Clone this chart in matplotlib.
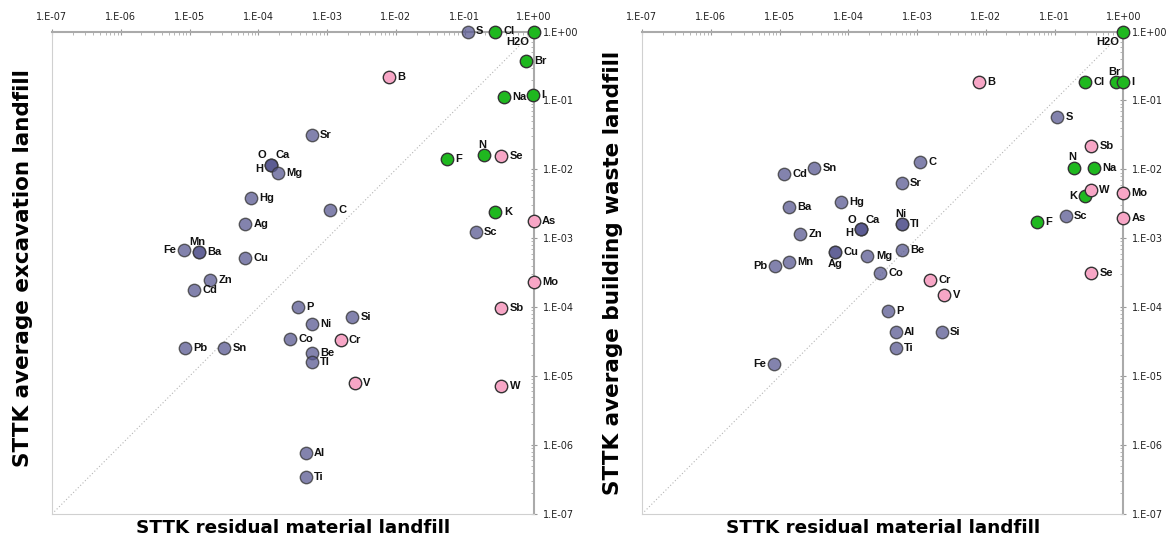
import matplotlib
matplotlib.use("Agg")
import matplotlib.pyplot as plt
from matplotlib.ticker import LogLocator, FixedLocator, NullFormatter
import numpy as np

# ---------------- data ----------------
elements = ["H2O", "S", "Cl", "Br", "I", "Na", "B", "F", "N", "Se", "K", "As", "Sc",
            "Mo", "Sb", "W", "O", "H", "Ca", "Mg", "Hg", "C", "Ag", "Fe", "Mn", "Ba",
            "Cu", "Zn", "Cd", "P", "Si", "Ni", "Co", "Cr", "Pb", "Sn", "Be", "Tl",
            "V", "Al", "Ti", "Sr"]
groups = ["g", "b", "g", "g", "g", "g", "p", "g", "g", "p", "g", "p", "b",
          "p", "p", "p", "b", "b", "b", "b", "b", "b", "b", "b", "b", "b",
          "b", "b", "b", "b", "b", "b", "b", "p", "b", "b", "b", "b",
          "p", "b", "b", "b"]
residual = [1.0, 0.11, 0.28, 0.78, 0.99, 0.37, 0.008, 0.055, 0.19, 0.34, 0.28, 1.0, 0.145,
            1.0, 0.34, 0.34, 1.55e-4, 1.55e-4, 1.55e-4, 1.9e-4, 7.9e-5, 1.1e-3, 6.5e-5, 8.4e-6, 1.37e-5, 1.37e-5,
            6.5e-5, 2.0e-5, 1.15e-5, 3.8e-4, 2.3e-3, 6.0e-4, 2.9e-4, 1.57e-3, 8.7e-6, 3.2e-5, 6.0e-4, 6.0e-4,
            2.5e-3, 4.9e-4, 4.9e-4, 6.0e-4]
excavation = [1.0, 1.0, 1.0, 0.37, 0.118, 0.112, 0.22, 0.014, 0.016, 0.0156, 0.0024, 0.0018, 0.00123,
              2.3e-4, 9.6e-5, 7.2e-6, 0.0117, 0.0117, 0.0117, 0.0089, 0.0038, 0.0026, 0.0016, 6.7e-4, 6.3e-4, 6.3e-4,
              5.1e-4, 2.5e-4, 1.77e-4, 1.0e-4, 7.1e-5, 5.7e-5, 3.5e-5, 3.3e-5, 2.6e-5, 2.6e-5, 2.2e-5, 1.6e-5,
              8.0e-6, 7.8e-7, 3.4e-7, 0.032]
building = [1.0, 0.057, 0.184, 0.184, 0.184, 0.0106, 0.184, 0.0017, 0.0106, 3.1e-4, 0.0041, 0.0020, 0.0021,
            0.0046, 0.0218, 0.0050, 0.00135, 0.00135, 0.00135, 5.5e-4, 0.0034, 0.0128, 6.4e-4, 1.5e-5, 4.5e-4, 0.0028,
            6.4e-4, 0.00117, 0.0085, 8.7e-5, 4.4e-5, 0.0016, 3.1e-4, 2.5e-4, 4.0e-4, 0.0106, 6.7e-4, 0.0016,
            1.5e-4, 4.4e-5, 2.6e-5, 0.0064]

tick_values = [1e-7, 1e-6, 1e-5, 1e-4, 1e-3, 1e-2, 1e-1, 1e0]
tick_labels = ["1.E-07", "1.E-06", "1.E-05", "1.E-04", "1.E-03", "1.E-02", "1.E-01", "1.E+00"]

xlabel_text = "STTK residual material landfill"
ylabel_left = "STTK average excavation landfill"
ylabel_right = "STTK average building waste landfill"

# ---------------- styles ----------------
face = {"g": "#1fb81f", "p": "#f7a6c6", "b": "#5a5a92"}
alpha = {"g": 1.0, "p": 1.0, "b": 0.75}

offsets = {
    "r": ((6, 0), "left", "center"),
    "l": ((-6, 0), "right", "center"),
    "u": ((-1, 4), "center", "bottom"),
    "d": ((-3, -4), "right", "top"),
    "ul": ((-4, 3), "right", "bottom"),
    "ur": ((3, 3), "left", "bottom"),
    "hl": ((-6, -3), "right", "center"),
    "dn": ((0, -5), "center", "top"),
}
pos_left = {"H2O": "d", "O": "ul", "H": "hl", "Ca": "ur", "Mn": "u", "Fe": "l", "N": "u"}
pos_right = {"H2O": "d", "O": "ul", "H": "hl", "Ca": "ur", "Br": "u", "N": "u", "K": "l",
             "Ni": "u", "Ag": "dn", "Fe": "l", "Pb": "l"}

W, H = 1168, 546
fig = plt.figure(figsize=(W / 100, H / 100), dpi=100)

panels = [
    (52, 533.5, excavation, ylabel_left, pos_left, 0.51),
    (642, 1123.3, building, ylabel_right, pos_right, 0.5),
]
y_top, y_bot = 31.5, 514

for (x0, x1, yvals, ylab, pos, ycen) in panels:
    ax = fig.add_axes([x0 / W, 1 - y_bot / H, (x1 - x0) / W, (y_bot - y_top) / H])
    ax.set_xscale("log")
    ax.set_yscale("log")
    ax.set_xlim(1e-7, 1)
    ax.set_ylim(1e-7, 1)

    ax.plot([1e-7, 1], [1e-7, 1], linestyle=(0, (1, 2)), color="#b5b5b5", lw=0.8, zorder=1)

    for e, g, xv, yv in zip(elements, groups, residual, yvals):
        ax.scatter([xv], [yv], s=80, c=face[g], alpha=alpha[g], edgecolors="#333333",
                   linewidths=1.0, zorder=3, clip_on=False)
        code = pos.get(e, "r")
        (dx, dy), ha, va = offsets[code]
        ax.annotate(e, (xv, yv), xytext=(dx, dy), textcoords="offset points",
                    ha=ha, va=va, fontsize=8, fontweight="bold",
                    family="Liberation Sans", color="#111111", zorder=4)

    for side in ["left", "bottom"]:
        ax.spines[side].set_color("#d0d0d0")
        ax.spines[side].set_linewidth(0.8)
    for side in ["top", "right"]:
        ax.spines[side].set_color("#aaaaaa")
        ax.spines[side].set_linewidth(1.5)

    ax.xaxis.set_ticks_position("top")
    ax.yaxis.set_ticks_position("right")
    ax.xaxis.set_major_locator(FixedLocator(tick_values))
    ax.yaxis.set_major_locator(FixedLocator(tick_values))
    ax.set_xticklabels(tick_labels)
    ax.set_yticklabels(tick_labels)
    ax.xaxis.set_minor_locator(LogLocator(base=10, subs=np.arange(2, 10), numticks=20))
    ax.yaxis.set_minor_locator(LogLocator(base=10, subs=np.arange(2, 10), numticks=20))
    ax.xaxis.set_minor_formatter(NullFormatter())
    ax.yaxis.set_minor_formatter(NullFormatter())
    ax.tick_params(which="major", direction="inout", length=5, width=0.8, color="#999999",
                   labelsize=7, labelcolor="#222222", pad=4)
    ax.tick_params(which="minor", direction="in", length=2.5, width=0.6, color="#aaaaaa")
    for lbl in ax.get_xticklabels() + ax.get_yticklabels():
        lbl.set_family("DejaVu Sans")

    ax.text(0.5, -0.029, xlabel_text, transform=ax.transAxes, ha="center", va="center",
            fontsize=13.2, fontweight="bold", family="DejaVu Sans")
    ax.text(-0.06, ycen, ylab, rotation=90, transform=ax.transAxes, ha="center",
            va="center", fontsize=15.5, fontweight="bold", family="DejaVu Sans")

fig.savefig("out.png", dpi=100, facecolor="white")
